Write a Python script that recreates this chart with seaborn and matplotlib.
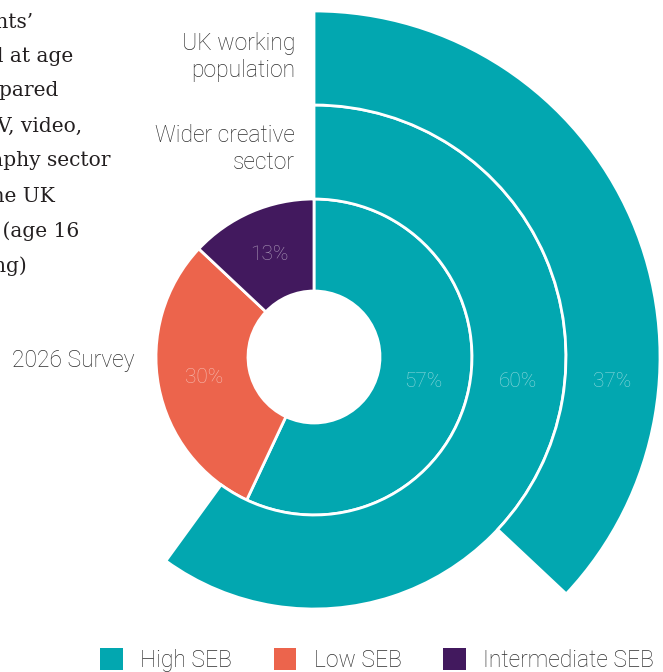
import matplotlib
matplotlib.use("Agg")
import matplotlib.pyplot as plt
from matplotlib.patches import Patch
import numpy as np
import seaborn as sns

# ---- data -------------------------------------------------------------
segments = ["High SEB", "Low SEB", "Intermediate SEB"]
survey_2026 = [57, 30, 13]          # inner ring, all three groups
wider_creative_high = 60            # middle ring, high SEB share only
uk_working_high = 37                # outer ring, high SEB share only
ring_names = ["2026 Survey", "Wider creative\nsector", "UK working\npopulation"]

caption_lines = [
    "Figure 3: Respondents’",
    "socio-economic background at age",
    "14, compared",
    "with the wider TV, video,",
    "and photography sector",
    "and the UK",
    "working population (age 16",
    "and working)",
]

# ---- style ------------------------------------------------------------
sns.set_theme(style="white")
palette = sns.color_palette(["#02A7B0", "#EC644C", "#42195E"])
plt.rcParams["font.family"] = ["Roboto", "DejaVu Sans"]

W, H = 663, 672
fig = plt.figure(figsize=(W / 100, H / 100), dpi=100)
ax = fig.add_axes([0, 0, 1, 1])
ax.set_xlim(0, W)
ax.set_ylim(0, H)
ax.set_aspect("equal")
ax.axis("off")

cx, cy = 314, H - 357
r_hole, r1, r2, r3 = 66, 158, 252, 346
edge = dict(edgecolor="white", linewidth=2.0)

# inner ring: 2026 survey
ax.pie(survey_2026, radius=r1, center=(cx, cy), startangle=90,
       counterclock=False, colors=palette,
       wedgeprops=dict(width=r1 - r_hole, **edge), frame=True)

# middle & outer rings: only the high SEB share is drawn
for share, r_out, r_in in [(wider_creative_high, r2, r1), (uk_working_high, r3, r2)]:
    wedges, _ = ax.pie([share, 100 - share], radius=r_out, center=(cx, cy),
                       startangle=90, counterclock=False,
                       colors=[palette[0], "none"],
                       wedgeprops=dict(width=r_out - r_in, **edge), frame=True)
    wedges[1].set_linewidth(0)

ax.set_xlim(0, W)
ax.set_ylim(0, H)
ax.axis("off")

# ---- value labels -----------------------------------------------------
pct_style = dict(color="white", alpha=0.55, fontsize=15, fontweight="light",
                 ha="center", va="center")
mid_inner = (r_hole + r1) / 2
start = 0.0
label_dy = None
for val in survey_2026:
    ang = np.deg2rad(start + val * 3.6 / 2)      # clockwise from 12 o'clock
    x = cx + mid_inner * np.sin(ang)
    y = cy + mid_inner * np.cos(ang)
    if label_dy is None:
        label_dy = y - cy
    ax.text(x, y, f"{val}%", **pct_style)
    start += val * 3.6

for share, r_out, r_in in [(wider_creative_high, r2, r1), (uk_working_high, r3, r2)]:
    rm = (r_out + r_in) / 2
    x = cx + np.sqrt(rm ** 2 - label_dy ** 2)
    ax.text(x, cy + label_dy, f"{share}%", **pct_style)

# ---- ring names -------------------------------------------------------
name_style = dict(color="#2e2e2e", fontsize=16.5, fontweight="light",
                  ha="right", va="center", linespacing=1.25)
ax.text(135, H - 360, ring_names[0], **name_style)
ax.text(295, H - 149, ring_names[1], **name_style)
ax.text(295, H - 57, ring_names[2], **name_style)

# ---- caption (runs off the left edge) ---------------------------------
cap_right = [33, 73, 58, 82, 110, 55, 79, 27]
cap_y = [22, 57, 91, 126, 161, 196, 231, 266]
for line, xr, yy in zip(caption_lines, cap_right, cap_y):
    ax.text(xr, H - yy, line, family="DejaVu Serif", fontsize=14.5,
            color="#231f20", ha="right", va="center")

# ---- legend -----------------------------------------------------------
handles = [Patch(facecolor=c, edgecolor="none") for c in palette]
leg = fig.legend(handles, segments, loc="lower left", ncol=3,
                 bbox_to_anchor=(98 / W, -2 / H), frameon=False,
                 fontsize=16.5, handlelength=1.0, handleheight=1.05,
                 handletextpad=0.75, columnspacing=1.8, borderpad=0.1,
                 borderaxespad=0.0)
for t in leg.get_texts():
    t.set_color("#2e2e2e")
    t.set_fontweight("light")

fig.savefig("out.png", dpi=100)
